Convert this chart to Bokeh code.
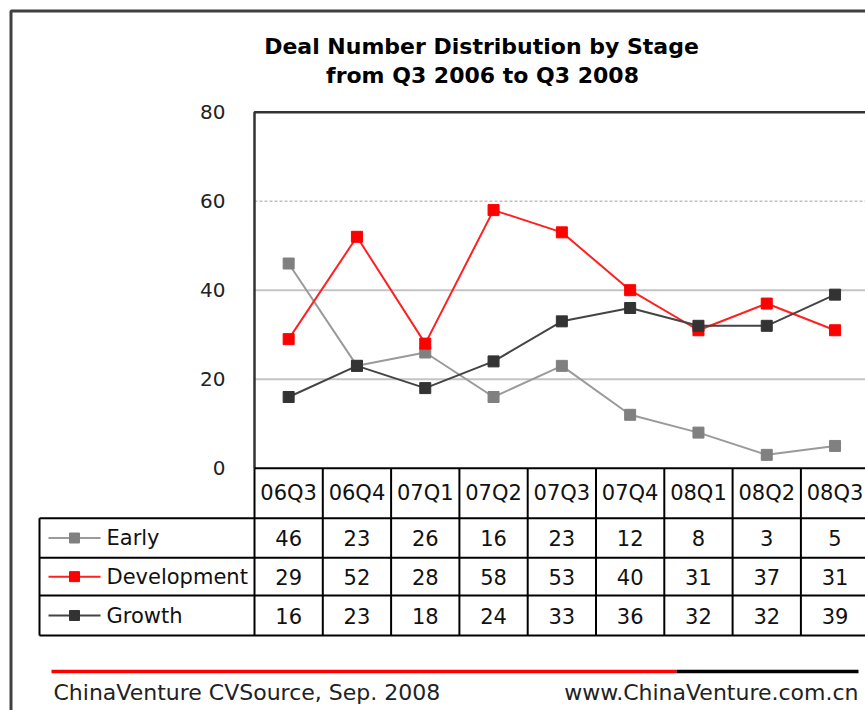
from bokeh.plotting import figure
from bokeh.models import Range1d
from bokeh.core.properties import value
from bokeh.embed import file_html
from bokeh.resources import INLINE

# ---------------- data ----------------
categories = ["06Q3", "06Q4", "07Q1", "07Q2", "07Q3", "07Q4", "08Q1", "08Q2", "08Q3"]
early = [46, 23, 26, 16, 23, 12, 8, 3, 5]
development = [29, 52, 28, 58, 53, 40, 31, 37, 31]
growth = [16, 23, 18, 24, 33, 36, 32, 32, 39]
series_names = ["Early", "Development", "Growth"]
y_ticks = [0, 20, 40, 60, 80]
title_lines = ["Deal Number Distribution by Stage", "from Q3 2006 to Q3 2008"]
source_text = "ChinaVenture CVSource, Sep. 2008"
site_text = "www.ChinaVenture.com.cn"

# ---------------- layout constants (pixels) ----------------
W, H = 865, 710
COL = 68.3            # width of one category column
FRAME_LEFT = 254      # left edge of plot area
ZERO_Y = 467.7        # canvas y of value 0
PPU = 4.45            # pixels per value unit
TABLE_LEFT = 39
ROW_LINES = [517.7, 557.3, 595.0, 635.0]
HEADER_Y = 492.5

x0 = -0.5 - FRAME_LEFT / COL
x1 = x0 + W / COL
v0 = -(H - ZERO_Y) / PPU
v1 = ZERO_Y / PPU

FONT = value("DejaVu Sans")

p = figure(width=W, height=H, x_range=Range1d(x0, x1), y_range=Range1d(v0, v1),
           output_backend="svg", toolbar_location=None, min_border=0,
           x_axis_location=None, y_axis_location=None, outline_line_color=None,
           background_fill_color="white", border_fill_color="white")
p.grid.visible = False
p.extra_x_ranges = {"px": Range1d(0, W)}
p.extra_y_ranges = {"py": Range1d(H, 0)}

# outer chart-area border (left + top)
p.line(x=[10.5, 10.5, W], y=[H, 10.5, 10.5], x_range_name="px", y_range_name="py",
       line_color="#404040", line_width=3)

# title
p.text(x=[481, 482], y=[45.5, 75], text=title_lines, x_range_name="px", y_range_name="py",
       text_align="center", text_baseline="middle", text_font=FONT,
       text_font_style="bold", text_font_size=value("22px"), text_color="black")

# gridlines
solid_grid = [t for t in y_ticks if t in (20, 40)]
dashed_grid = [t for t in y_ticks if t == 60]
p.segment(x0=[-0.5] * len(solid_grid), y0=solid_grid, x1=[x1] * len(solid_grid), y1=solid_grid,
          line_color="#c4c4c4", line_width=2)
p.segment(x0=[-0.5] * len(dashed_grid), y0=dashed_grid, x1=[x1] * len(dashed_grid), y1=dashed_grid,
          line_color="#c0c0c0", line_width=1.5, line_dash="3 2")

# plot frame (left + top)
p.line(x=[-0.5, -0.5, x1], y=[y_ticks[0], y_ticks[-1], y_ticks[-1]],
       line_color="#333333", line_width=2.5)

# y tick labels
p.text(x=[-0.5 - 29 / COL] * len(y_ticks), y=y_ticks, text=[str(t) for t in y_ticks],
       text_align="right", text_baseline="middle", text_font=FONT,
       text_font_size=value("20px"), text_color="#222222")

# series
xs = list(range(len(categories)))
styles = [
    (early, "#9a9a9a", "#808080"),
    (development, "#ff2020", "#ff0000"),
    (growth, "#444444", "#333333"),
]
for vals, lc, mc in styles:
    p.line(x=xs, y=vals, line_color=lc, line_width=2)
    p.scatter(x=xs, y=vals, marker="square", size=11, fill_color=mc, line_color=mc)

# ---------------- data table ----------------
TC = "#111111"
TFS = value("21px")
# horizontal lines
p.line(x=[-0.5, x1], y=[0, 0], line_color="black", line_width=2)
for ry in ROW_LINES:
    p.line(x=[TABLE_LEFT, W], y=[ry, ry], x_range_name="px", y_range_name="py",
           line_color="black", line_width=2)
# vertical lines
p.line(x=[TABLE_LEFT, TABLE_LEFT], y=[ROW_LINES[0], ROW_LINES[-1]],
       x_range_name="px", y_range_name="py", line_color="black", line_width=2)
p.segment(x0=[k - 0.5 for k in range(len(categories) + 1)], y0=[ZERO_Y] * (len(categories) + 1),
          x1=[k - 0.5 for k in range(len(categories) + 1)], y1=[ROW_LINES[-1]] * (len(categories) + 1),
          y_range_name="py", line_color="black", line_width=2)

# header
p.text(x=xs, y=[HEADER_Y] * len(xs), text=categories, y_range_name="py",
       text_align="center", text_baseline="middle", text_font=FONT,
       text_font_size=TFS, text_color=TC)

row_centers = [(ROW_LINES[i] + ROW_LINES[i + 1]) / 2 for i in range(3)]
for (vals, lc, mc), name, ry in zip(styles, series_names, row_centers):
    p.text(x=xs, y=[ry] * len(xs), text=[str(v) for v in vals], y_range_name="py",
           text_align="center", text_baseline="middle", text_font=FONT,
           text_font_size=TFS, text_color=TC)
    p.line(x=[48, 100], y=[ry, ry], x_range_name="px", y_range_name="py",
           line_color=lc, line_width=2)
    p.scatter(x=[74], y=[ry], x_range_name="px", y_range_name="py", marker="square",
              size=10, fill_color=mc, line_color=mc)
    p.text(x=[106], y=[ry], text=[name], x_range_name="px", y_range_name="py",
           text_align="left", text_baseline="middle", text_font=FONT,
           text_font_size=TFS, text_color=TC)

# ---------------- footer ----------------
p.line(x=[51, 676], y=[671, 671], x_range_name="px", y_range_name="py",
       line_color="#ff0000", line_width=3.5)
p.line(x=[676, 858], y=[671, 671], x_range_name="px", y_range_name="py",
       line_color="#000000", line_width=3.5)
p.text(x=[53], y=[692], text=[source_text], x_range_name="px", y_range_name="py",
       text_align="left", text_baseline="middle", text_font=FONT,
       text_font_size=value("22px"), text_color="#222222")
p.text(x=[858], y=[692], text=[site_text], x_range_name="px", y_range_name="py",
       text_align="right", text_baseline="middle", text_font=FONT,
       text_font_size=value("22px"), text_color="#222222")

open("out.html", "w").write(file_html(p, INLINE))
